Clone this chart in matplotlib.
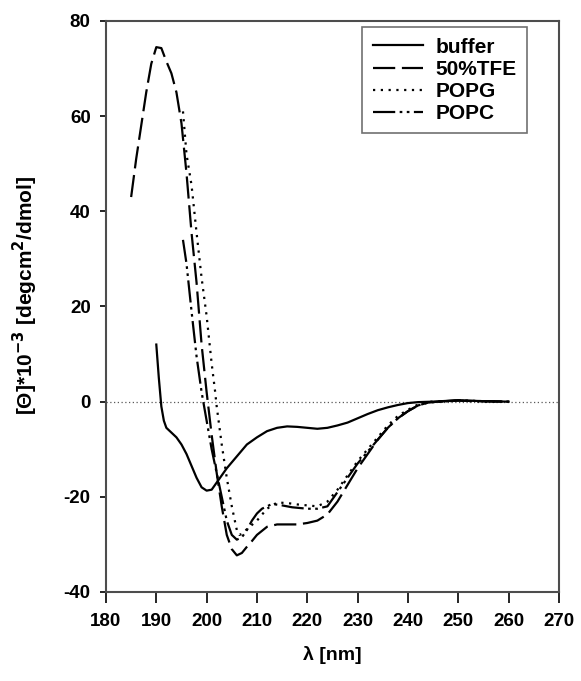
import numpy as np
import matplotlib.pyplot as plt

plt.rcParams['font.family'] = ['Liberation Sans', 'DejaVu Sans']
plt.rcParams['font.weight'] = 'bold'
plt.rcParams['axes.unicode_minus'] = False
plt.rcParams['mathtext.default'] = 'bf'

# buffer
buf_x = [190, 190.5, 191, 191.5, 192, 193, 194, 195, 196, 197, 198, 199, 200, 201, 202,
         204, 206, 208, 210, 212, 214, 216, 218, 220, 222, 224, 226, 228, 230, 232,
         234, 236, 238, 240, 242, 245, 250, 255, 260]
buf_y = [12, 5, -1, -4, -5.5, -6.5, -7.5, -9, -11, -13.5, -16, -18, -18.7, -18.5, -17,
         -14, -11.5, -9, -7.5, -6.2, -5.5, -5.2, -5.3, -5.5, -5.7, -5.5, -5, -4.4, -3.5, -2.6,
         -1.8, -1.2, -0.7, -0.3, -0.1, 0, 0.3, 0.1, 0]

# 50% TFE
tfe_x = [185, 186, 187, 188, 189, 190, 191, 192, 193, 194, 195, 196, 197, 198, 199, 200,
         201, 202, 203, 204, 205, 206, 207, 208, 209, 210, 212, 214, 216, 218, 220, 222,
         224, 226, 228, 230, 232, 234, 236, 238, 240, 242, 244, 246, 250, 255, 260]
tfe_y = [43, 51, 58, 65, 71, 74.5, 74.3, 71.5, 69, 65, 58.5, 48, 35.5, 25, 12, 2,
         -7, -15, -22, -28, -31, -32.3, -31.8, -30.5, -29.3, -28, -26.3, -25.8, -25.8, -25.8, -25.5, -25,
         -23.7, -21, -17.5, -14, -11, -8, -5.5, -3.5, -2, -0.8, -0.2, 0, 0.2, 0.1, 0]

# POPG
popg_x = [195.3, 196, 197, 198, 199, 200, 201, 201.7, 202, 203, 204, 205, 206, 206.5, 207,
          208, 210, 212, 214, 216, 218, 220, 222, 224, 226, 228, 230, 232, 234, 236, 238,
          240, 242, 244, 246, 250, 255, 260]
popg_y = [61, 52, 45.5, 35.5, 26, 18, 8, 2, -1, -9, -16, -22, -27, -28, -27.8,
          -26.8, -25, -22.5, -21.2, -21.3, -21.6, -21.8, -22, -21, -18.5, -15.5, -12.5, -10, -7.5, -5, -3,
          -1.7, -0.6, 0, 0, 0.2, 0, 0]

# POPC
popc_x = [195.3, 196, 197, 198, 199, 200, 201, 202, 203, 204, 205, 206, 207, 208, 209,
          210, 211, 213, 215, 217, 220, 222, 224, 226, 228, 230, 232, 234, 236, 238, 240,
          242, 244, 246, 250, 255, 260]
popc_y = [34, 29, 19, 9.5, 2, -4, -10, -15, -20, -25, -28, -29, -28.5, -27, -25,
          -23.5, -22.5, -21.5, -21.8, -22.2, -22.5, -22.5, -22, -19, -16, -13, -10.5, -8, -5.5, -3.5, -2,
          -0.8, -0.2, 0, 0.3, 0.1, 0]

fig = plt.figure(figsize=(5.81, 6.81), dpi=100)
ax = fig.add_axes([0.1824, 0.1307, 0.7796, 0.8385])

ax.axhline(0, color='0.35', lw=0.9, ls=(0, (1, 2)), zorder=1)

lw = 1.6
ax.plot(buf_x, buf_y, color='black', lw=lw, ls='-', label='buffer')
ax.plot(tfe_x, tfe_y, color='black', lw=lw, ls=(0, (10, 3)), label='50%TFE')
ax.plot(popg_x, popg_y, color='black', lw=lw, ls=(0, (1, 2.5)), label='POPG')
ax.plot(popc_x, popc_y, color='black', lw=lw, ls=(0, (10, 2, 1.2, 2, 1.2, 2)), label='POPC')

ax.set_xlim(180, 270)
ax.set_ylim(-40, 80)
ax.set_xticks(np.arange(180, 271, 10))
ax.set_yticks(np.arange(-40, 81, 20))
ax.tick_params(axis='x', direction='out', length=8, width=1.2, labelsize=13.5, pad=7)
ax.tick_params(axis='y', direction='out', length=4, width=1.2, labelsize=13.5, pad=7)
for s in ax.spines.values():
    s.set_linewidth(1.5)
    s.set_color('0.3')

ax.set_xlabel('λ [nm]', fontsize=14, fontweight='bold', labelpad=12)
ax.set_ylabel('[Θ]*10$^{-3}$ [degcm$^2$/dmol]', fontsize=15, fontweight='bold')
ax.yaxis.set_label_coords(-0.145, 0.52)

leg = ax.legend(loc='upper right', fontsize=15, frameon=True, fancybox=False,
                edgecolor='0.3', handlelength=2.4, borderpad=0.5, labelspacing=0.15,
                handletextpad=0.6, borderaxespad=0, bbox_to_anchor=(0.929, 0.989))
leg.get_frame().set_linewidth(1.2)

fig.savefig('out.png', dpi=100)
